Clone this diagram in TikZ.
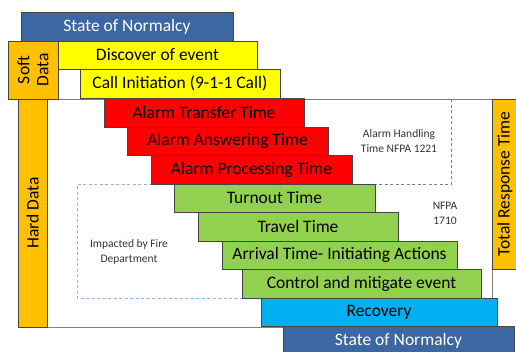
\documentclass[tikz,border=0pt]{standalone}
\usepackage{fontspec}
\setmainfont{Carlito}
\definecolor{sblue}{HTML}{3C67A3}
\definecolor{syellow}{HTML}{FFFF00}
\definecolor{sred}{HTML}{FF0000}
\definecolor{sgreen}{HTML}{92D050}
\definecolor{scyan}{HTML}{00B0F0}
\definecolor{sorange}{HTML}{FFC000}
\definecolor{bordergray}{HTML}{454545}
\definecolor{framegray}{HTML}{7F7F7F}
\definecolor{dashblue}{HTML}{8EB4E3}
\definecolor{notegray}{HTML}{333333}
\begin{document}
\begin{tikzpicture}[x=1pt,y=-1pt,
  box/.style={draw=bordergray, line width=0.8pt, inner sep=0pt, outer sep=0pt,
    anchor=north west, font=\fontsize{17.5}{20}\selectfont, text=black},
  vbox/.style={draw=bordergray, line width=0.8pt, inner sep=0pt, outer sep=0pt,
    anchor=center, rotate=90, fill=sorange, font=\fontsize{17.5}{20}\selectfont, text=black},
  note/.style={font=\fontsize{11.5}{15}\selectfont, text=notegray, align=center, inner sep=0pt},
  frameline/.style={draw=framegray, line width=0.9pt},
  graydash/.style={draw=framegray, line width=1pt, dash pattern=on 3pt off 2.5pt},
  bluedash/.style={draw=dashblue, line width=1pt, dash pattern=on 3pt off 2.5pt}]
\clip (0,0) rectangle (516,351);
% outer frame and dashed regions
\draw[frameline] (18,99) rectangle (492,327);
\draw[graydash] (451,99) -- (451,184) -- (352,184);
\draw[bluedash] (174,184) -- (77,184) -- (77,298) -- (242,298);
% side bars
\node[vbox, minimum width=58, minimum height=50, align=center] (soft) at (33,70) {Soft\\[-1pt]Data};
\node[vbox, minimum width=228, minimum height=29] (hard) at (32.5,213) {Hard Data};
\node[vbox, minimum width=170, minimum height=26] (total) at (505,184) {Total Response Time};
% steps
\node[box, fill=sblue, text=white, minimum width=212, minimum height=29] (sn1) at (21,12) {State of Normalcy};
\node[box, fill=syellow, minimum width=199, minimum height=28] (disc) at (58,41) {Discover of event};
\node[box, fill=syellow, minimum width=200, minimum height=29] (call) at (80,69) {Call Initiation (9-1-1 Call)};
\node[box, fill=sred, minimum width=200, minimum height=29] (att) at (104,98) {Alarm Transfer Time};
\node[box, fill=sred, minimum width=201, minimum height=28] (aat) at (127,127) {Alarm Answering Time};
\node[box, fill=sred, minimum width=201, minimum height=29] (apt) at (151,155) {Alarm Processing Time};
\node[box, fill=sgreen, minimum width=201, minimum height=28] (turn) at (174,184) {Turnout Time};
\node[box, fill=sgreen, minimum width=200, minimum height=29] (trav) at (198,212) {Travel Time};
\node[box, fill=sgreen, minimum width=235, minimum height=28] (arr) at (222,241) {Arrival Time- Initiating Actions};
\node[box, fill=sgreen, minimum width=239, minimum height=29] (ctl) at (242,269) {Control and mitigate event};
\node[box, fill=scyan, minimum width=236, minimum height=28] (rec) at (261,298) {Recovery};
\node[box, fill=sblue, text=white, minimum width=231, minimum height=30] (sn2) at (283,326) {State of Normalcy};
% notes
\node[note] (nfpa1221) at (399,141) {Alarm Handling\\Time NFPA 1221};
\node[note] (nfpa1710) at (445,213) {NFPA\\1710};
\node[note] (fire) at (129,252) {Impacted by Fire\\Department};
\end{tikzpicture}
\end{document}
